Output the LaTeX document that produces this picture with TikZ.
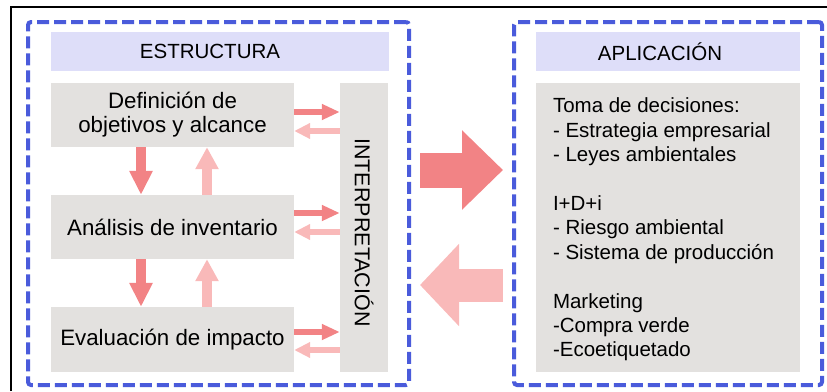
\documentclass[tikz,border=0pt]{standalone}
\usepackage{fontspec}
\setmainfont{Liberation Sans}
\usetikzlibrary{arrows.meta,calc}
\definecolor{frameblue}{HTML}{4A5BDB}
\definecolor{headlav}{HTML}{DEDEF9}
\definecolor{boxgray}{HTML}{E3E1DF}
\definecolor{pinkdark}{HTML}{F28385}
\definecolor{pinklight}{HTML}{F9B9B9}
\begin{document}
\begin{tikzpicture}[x=1pt,y=-1pt,font=\fontsize{20.5pt}{24.4pt}\selectfont,
		frame/.style={draw=frameblue,line width=4pt,dash pattern=on 12pt off 5pt,rounded corners=3pt},
		head/.style={fill=headlav,inner sep=0pt},
		gbox/.style={fill=boxgray,inner sep=0pt,align=center,font=\fontsize{22.3pt}{24pt}\selectfont},
		fwd/.style={draw=pinkdark,line width=6pt,-{Triangle[width=15pt,length=18pt]}},
		back/.style={draw=pinklight,line width=6pt,-{Triangle[width=15pt,length=16pt]}},
		vfwd/.style={draw=pinkdark,line width=10pt,-{Triangle[width=22pt,length=24pt]}},
		vback/.style={draw=pinklight,line width=10pt,-{Triangle[width=22pt,length=22pt]}},
		bigfwd/.style={draw=pinkdark,line width=35pt,-{Triangle[width=77pt,length=41pt]}},
		bigback/.style={draw=pinklight,line width=33pt,-{Triangle[width=80pt,length=39pt]}}]
			\useasboundingbox (0,0) rectangle (827,391);
			\draw [line width=1.5pt] (11,391) -- (11,7) -- (827,7);
			% left part
			\node [frame,minimum width=381pt,minimum height=363pt] (estrframe) at (218.5,203.5) {};
			\node [head,minimum width=338pt,minimum height=39pt] (estrhead) at (220,51.5) {};
			\node at ($(estrhead)+(-10,0)$) {ESTRUCTURA};
			\node [gbox,minimum width=243pt,minimum height=64pt] (defin) at (172.5,115) {Definición de\\objetivos y alcance};
			\node [gbox,minimum width=243pt,minimum height=64pt] (anal) at (172.5,227) {Análisis de inventario};
			\node [gbox,minimum width=243pt,minimum height=65pt] (evalu) at (172.5,339.5) {Evaluación de impacto};
			\node [gbox,minimum width=48pt,minimum height=289pt] (interp) at (364,227.5) {};
			\node [rotate=-90,font=\fontsize{21.5pt}{24pt}\selectfont] at ($(interp.center)+(0,5)$) {INTERPRETACIÓN};
			\draw [vfwd] ($(defin.south)+(-31.5,0)$) -- ($(anal.north)+(-31.5,0)$);
			\draw [vback] ($(anal.north)+(34.5,0)$) -- ($(defin.south)+(34.5,0)$);
			\draw [vfwd] ($(anal.south)+(-31.5,0)$) -- ($(evalu.north)+(-31.5,0)$);
			\draw [vback] ($(evalu.north)+(34.5,0)$) -- ($(anal.south)+(34.5,0)$);
			\draw [fwd] ($(defin.east)+(0,-3)$) -- ($(defin.east -| interp.west)+(0,-3)$);
			\draw [back] ($(defin.east -| interp.west)+(0,16)$) -- ($(defin.east)+(0,16)$);
			\draw [fwd] ($(anal.east)+(0,-14)$) -- ($(anal.east -| interp.west)+(0,-14)$);
			\draw [back] ($(anal.east -| interp.west)+(0,5)$) -- ($(anal.east)+(0,5)$);
			\draw [fwd] ($(evalu.east)+(0,-7.5)$) -- ($(evalu.east -| interp.west)+(0,-7.5)$);
			\draw [back] ($(evalu.east -| interp.west)+(0,10.5)$) -- ($(evalu.east)+(0,10.5)$);
			% right part
			\node [frame,minimum width=308pt,minimum height=363pt] (aplframe) at (668,203.5) {};
			\node [head,minimum width=264pt,minimum height=39pt] (aplhead) at (668,51.5) {};
			\node at ($(aplhead)+(-8,0)$) {APLICACIÓN};
			\node [gbox,minimum width=264pt,minimum height=289pt] (aplbox) at (668,227.5) {};
			\node [inner sep=0pt,align=left,anchor=north west] (apltext) at ($(aplbox.north west)+(17,15)$)
				{Toma de decisiones:\\- Estrategia empresarial\\- Leyes ambientales\\[24.4pt]I+D+i\\- Riesgo ambiental\\- Sistema de producción\\[24.4pt]Marketing\\-Compra verde\\-Ecoetiquetado};
			% big arrows
			\draw [bigfwd] ($(estrframe.east)+(9,-33.5)$) -- ($(aplframe.west)+(-9,-33.5)$);
			\draw [bigback] ($(aplframe.west)+(-9,81.5)$) -- ($(estrframe.east)+(9,81.5)$);
\end{tikzpicture}
\end{document}
